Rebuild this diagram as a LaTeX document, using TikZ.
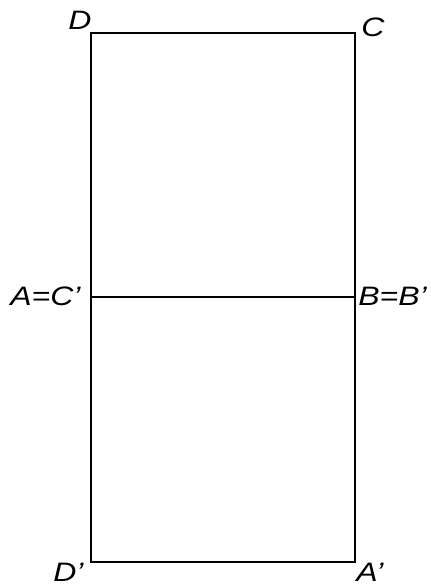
\documentclass[tikz,border=0pt]{standalone}
\usepackage{fontspec}
\setmainfont{Liberation Sans}
\tikzset{
  corner/.style={font=\fontsize{20}{24}\selectfont\itshape, inner sep=0pt, anchor=base west},
  edge/.style={line width=1.5pt}
}
\begin{document}
\begin{tikzpicture}[x=0.75pt,y=-0.75pt]
  \useasboundingbox (0,0) rectangle (431,585);
  % corners of the folded sheet
  \coordinate (D) at (91,33);
  \coordinate (C) at (355,33);
  \coordinate (A) at (91,297);
  \coordinate (B) at (355,297);
  \coordinate (Dp) at (91,562);
  \coordinate (Ap) at (355,562);
  \draw[edge] (A) -- (D) -- (C) -- (B);
  \draw[edge] (A) -- (Dp) -- (Ap) -- (B);
  \draw[edge] (A) -- (B);
  % labels
  \node[corner] (lD) at (68,30) {\scalebox{1.2}[1]{D}};
  \node[corner] (lC) at (361,37) {\scalebox{1.2}[1]{C}};
  \node[corner] (lA) at (10,305) {\scalebox{1.2}[1]{A=C’}};
  \node[corner] (lB) at (358,305) {\scalebox{1.2}[1]{B=B’}};
  \node[corner] (lDp) at (53,581) {\scalebox{1.2}[1]{D’}};
  \node[corner] (lAp) at (356,581) {\scalebox{1.2}[1]{A’}};
\end{tikzpicture}
\end{document}
